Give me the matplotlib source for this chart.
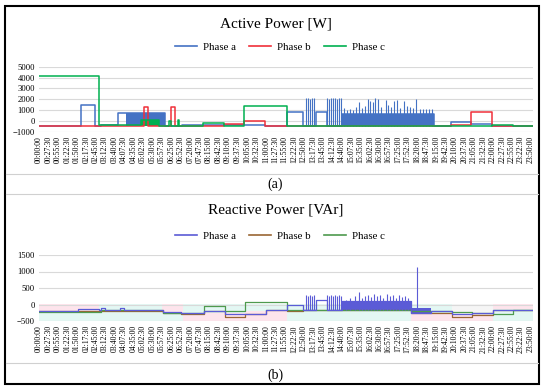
import numpy as np
import matplotlib.pyplot as plt
from matplotlib.lines import Line2D
from matplotlib.patches import Rectangle

plt.rcParams['font.family'] = ['Liberation Serif', 'DejaVu Serif']

# Data (time in hours)
# ------------------------------------------------------------------------

# active power, step breakpoints
act_a_t = [0, 2.04, 2.72, 3.0, 3.83, 4.2, 6.13, 6.94, 7.96, 9.94, 10.94, 12.0, 12.78,
           13.45, 13.95, 14.7, 19.15, 19.96, 20.96, 21.97, 23.95]
act_a_v = [-500, 1480, -450, -400, 710, 750, -450, -370, -400, -370, -450, 860, -450,
           800, -450, 650, -450, -150, -300, -450, -450]
act_b_t = [0, 5.1, 5.27, 6.42, 6.58, 8.96, 9.94, 10.94, 19.96, 20.96, 21.97, 23.0, 23.95]
act_b_v = [-500, 1270, -500, 1270, -500, -330, -30, -500, -370, 860, -450, -480, -480]
act_c_t = [0, 2.93, 4.96, 5.8, 6.3, 6.38, 6.72, 6.78, 7.96, 8.96, 9.94, 12.0, 21.97, 23.0, 23.95]
act_c_v = [4100, -420, 50, -450, 0, -450, 50, -450, -200, -450, 1330, -450, -400, -480, -480]

# dense oscillation bands: start, end, low, high
act_a_bands = [(4.2, 6.13, -450, 750), (14.7, 19.15, -450, 650)]
act_c_bands = [(4.96, 5.8, -450, 50)]

act_a_spike_t = [12.95, 13.05, 13.15, 13.25, 13.35, 13.95, 14.05, 14.15, 14.25, 14.35,
                 14.45, 14.55, 14.65, 14.8, 14.95, 15.1, 15.2, 15.35, 15.5, 15.65, 15.8,
                 15.95, 16.05, 16.2, 16.3, 16.45, 16.6, 16.8, 16.9, 17.05, 17.2, 17.35,
                 17.5, 17.7, 17.85, 18.0, 18.15, 18.3, 18.45, 18.6, 18.75, 18.9, 19.05]
act_a_spike_v = [2100, 2100, 2050, 2100, 2100, 2100, 2050, 2100, 2100, 2150, 2050, 2100,
                 2100, 1200, 1000, 1050, 1000, 1300, 1700, 1200, 1400, 2050, 1800, 1700,
                 2150, 2000, 1300, 1900, 1500, 1300, 1800, 1900, 1200, 1800, 1400, 1300,
                 1200, 2000, 1100, 1100, 1100, 1100, 1100]

# reactive power, step breakpoints
rea_a_t = [0, 1.9, 2.9, 3.0, 3.2, 3.95, 4.1, 6.0, 6.9, 8.0, 9.0, 10.0, 11.0, 12.0, 12.8,
           13.45, 13.95, 14.7, 18.05, 19.0, 20.0, 21.0, 22.0, 23.95]
rea_a_v = [-200, -150, -180, -110, -170, -110, -170, -220, -260, -200, -280, -300, -180,
           0, -170, 150, -170, 100, -250, -200, -300, -260, -170, -170]
rea_b_t = [0, 6.0, 6.9, 8.0, 9.0, 10.0, 11.0, 12.0, 12.8, 18.05, 19.0, 20.0, 21.0, 22.0, 23.95]
rea_b_v = [-210, -250, -290, -200, -390, -300, -180, -190, -180, -250, -260, -380, -330,
           -170, -170]
rea_c_t = [0, 3.0, 6.0, 8.0, 9.0, 10.0, 12.0, 18.05, 20.0, 21.0, 22.0, 23.0, 23.95]
rea_c_v = [-240, -170, -250, -60, -200, 80, -180, -200, -220, -250, -300, -170, -170]

rea_a_bands = [(14.7, 18.05, -170, 100), (18.05, 19.0, -250, -120)]
rea_a_spike_t = [12.95, 13.05, 13.15, 13.25, 13.35, 13.95, 14.05, 14.15, 14.25, 14.35,
                 14.45, 14.55, 14.65, 14.9, 15.1, 15.3, 15.5, 15.65, 15.8, 15.95, 16.1,
                 16.25, 16.4, 16.55, 16.7, 16.85, 17.0, 17.15, 17.3, 17.45, 17.6, 17.75,
                 17.9, 18.33]
rea_a_spike_v = [280, 260, 280, 270, 280, 280, 270, 280, 260, 280, 270, 280, 260, 150,
                 200, 250, 380, 200, 250, 300, 220, 330, 250, 300, 200, 320, 250, 300,
                 200, 280, 230, 260, 200, 1150]

# light background shading on reactive plot: start, end, low, high, colour
rea_shade = [(0, 2.9, -200, 0, '#fde4ec'), (0, 2.9, -500, -200, '#e3f7f3'),
             (2.9, 5.95, -500, 0, '#e3f7f3'), (5.95, 7.0, -250, 0, '#fde4ec'),
             (5.95, 7.0, -500, -250, '#e3f7f3'), (7.0, 10.0, -500, -250, '#fde4ec'),
             (7.0, 10.0, -250, 0, '#e3f7f3'), (10.0, 12.0, -500, -200, '#fde4ec'),
             (10.0, 12.0, -200, 0, '#e3f7f3'), (12.0, 18.05, -500, 0, '#e3f7f3'),
             (18.05, 20.0, -500, -250, '#fde4ec'), (18.05, 20.0, -250, 0, '#e3f7f3'),
             (20.0, 22.0, -500, -300, '#fde4ec'), (20.0, 22.0, -300, 0, '#f5f5f5'),
             (22.0, 23.95, -150, 0, '#fde4ec'), (22.0, 23.95, -500, -150, '#e3f7f3')]

tick_secs = np.arange(53) * 1650
tick_hours = tick_secs / 3600
tick_labels = ['%02d:%02d:%02d' % (s // 3600, s // 60 % 60, s % 60) for s in tick_secs]

# Plot
# ------------------------------------------------------------------------

fig = plt.figure(figsize=(5.5, 3.9), dpi=100)
W, H = 550, 390


def fx(px):
    return px / W


def fy(py):
    return 1 - py / H


def style_axes(ax, ylim, yticks):
    ax.set_xlim(0, 23.95)
    ax.set_ylim(*ylim)
    ax.set_yticks(yticks)
    ax.set_xticks(tick_hours)
    ax.set_xticklabels(tick_labels, rotation=90, fontsize=5.6)
    ax.tick_params(axis='both', length=0, pad=3)
    ax.tick_params(axis='y', labelsize=6.2)
    for s in ax.spines.values():
        s.set_visible(False)
    ax.grid(axis='y', color='#d9d9d9', lw=0.8)
    ax.set_axisbelow(True)


def draw_series(ax, t, v, color, bands=(), spikes=None, lw=1.1):
    ax.plot(t, v, drawstyle='steps-post', color=color, lw=lw)
    for s, e, lo, hi in bands:
        ax.fill_between([s, e], lo, hi, color=color, lw=0)
    if spikes is not None:
        st, sv = spikes
        ax.vlines(st, -450 if sv[0] > 800 else -170, sv, color=color, lw=0.8)


# Active power
ax1 = fig.add_axes([fx(39), fy(131.7), fx(494), 65 / H])
style_axes(ax1, (-1000, 5000), range(-1000, 5001, 1000))
draw_series(ax1, act_a_t, act_a_v, '#4472C4', act_a_bands, (act_a_spike_t, act_a_spike_v))
draw_series(ax1, act_b_t, act_b_v, '#F0303A')
draw_series(ax1, act_c_t, act_c_v, '#00B050', act_c_bands)

# Reactive power
ax2 = fig.add_axes([fx(39), fy(321), fx(494), 66 / H])
style_axes(ax2, (-500, 1500), range(-500, 1501, 500))
for s, e, lo, hi, c in rea_shade:
    ax2.fill_between([s, e], lo, hi, color=c, lw=0, zorder=0.5)
draw_series(ax2, rea_b_t, rea_b_v, '#996633', lw=0.9)
draw_series(ax2, rea_c_t, rea_c_v, '#4E9A4E', lw=0.9)
draw_series(ax2, rea_a_t, rea_a_v, '#5B5BD6', rea_a_bands, (rea_a_spike_t, rea_a_spike_v), lw=0.9)

# titles and legends
fig.text(fx(276), fy(24), 'Active Power [W]', ha='center', va='center', fontsize=11)
fig.text(fx(276), fy(210), 'Reactive Power [VAr]', ha='center', va='center', fontsize=11)

act_handles = [Line2D([], [], color=c, lw=1.2) for c in ['#4472C4', '#F0303A', '#00B050']]
rea_handles = [Line2D([], [], color=c, lw=1.2) for c in ['#5B5BD6', '#996633', '#4E9A4E']]
for handles, y in [(act_handles, 47), (rea_handles, 236)]:
    fig.legend(handles, ['Phase a', 'Phase b', 'Phase c'], loc='center', ncol=3,
               bbox_to_anchor=(fx(280), fy(y)), frameon=False, fontsize=7.8,
               handlelength=2.0, columnspacing=1.2, handletextpad=0.6)

fig.text(fx(275), fy(184), '(a)', ha='center', va='center', fontsize=10)
fig.text(fx(275), fy(375), '(b)', ha='center', va='center', fontsize=10)

# panel frame
for y in [174, 194, 363]:
    fig.add_artist(Line2D([fx(6), fx(538)], [fy(y), fy(y)], color='#d0d0d0', lw=0.8))
fig.add_artist(Rectangle((fx(5), fy(384)), fx(534), (384 - 6) / H, fill=False,
                         edgecolor='black', lw=1.5))

fig.savefig('out.png', dpi=100)
